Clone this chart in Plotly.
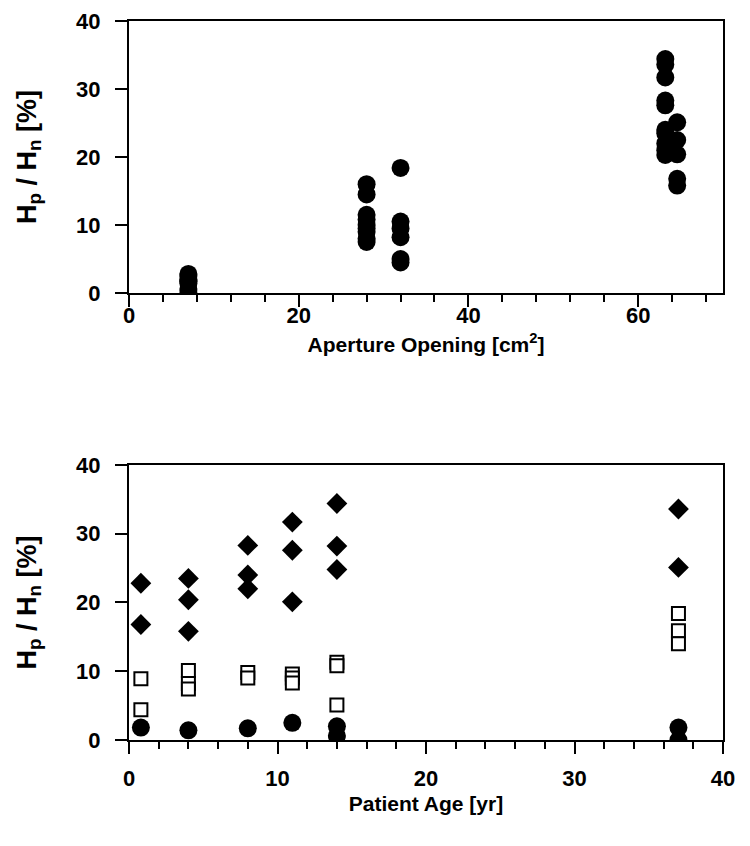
import plotly.graph_objects as go
from plotly.subplots import make_subplots

# ---- Top panel: aperture opening vs Hp/Hn ----
ap_x_7 = [7, 7, 7, 7, 7, 7, 7, 7]
ap_y_7 = [0.0, 0.6, 1.4, 1.7, 1.8, 2.0, 2.5, 2.8]
ap_x_28 = [28, 28, 28, 28, 28, 28, 28, 28, 28]
ap_y_28 = [16.0, 14.5, 11.5, 10.8, 10.0, 9.5, 9.0, 8.0, 7.5]
ap_x_32 = [32, 32, 32, 32, 32, 32]
ap_y_32 = [18.4, 10.5, 9.5, 8.2, 5.0, 4.5]
ap_x_63 = [63.2] * 10
ap_y_63 = [34.4, 33.6, 31.7, 28.3, 27.6, 24.0, 23.5, 22.0, 21.0, 20.3]
ap_x_645 = [64.6] * 5
ap_y_645 = [25.1, 22.5, 20.4, 16.8, 15.8]

# ---- Bottom panel: patient age ----
age_diamond_x = [0.8, 0.8, 4, 4, 4, 8, 8, 8, 11, 11, 11, 14, 14, 14, 37, 37]
age_diamond_y = [22.8, 16.8, 23.5, 20.4, 15.8, 28.3, 24.0, 22.0, 31.7, 27.6, 20.1, 34.4, 28.2, 24.8, 33.6, 25.1]
age_square_x = [0.8, 0.8, 4, 4, 4, 8, 8, 11, 11, 11, 14, 14, 14, 37, 37, 37]
age_square_y = [8.9, 4.4, 10.1, 8.2, 7.4, 9.8, 9.0, 9.6, 9.0, 8.3, 11.3, 10.8, 5.1, 18.4, 15.9, 14.0]
age_circle_x = [0.8, 4, 8, 11, 14, 14, 37, 37]
age_circle_y = [1.8, 1.4, 1.7, 2.5, 2.0, 0.6, 1.8, 0.0]

top_xticks = [0, 20, 40, 60]
bot_xticks = [0, 10, 20, 30, 40]
yticks = [0, 10, 20, 30, 40]

FONT = "Liberation Sans, Arial, sans-serif"

fig = make_subplots(rows=2, cols=1)

top_x = ap_x_7 + ap_x_28 + ap_x_32 + ap_x_63 + ap_x_645
top_y = ap_y_7 + ap_y_28 + ap_y_32 + ap_y_63 + ap_y_645
fig.add_trace(go.Scatter(x=top_x, y=top_y, mode="markers",
                         marker=dict(symbol="circle", size=18, color="black"),
                         showlegend=False), row=1, col=1)

fig.add_trace(go.Scatter(x=age_diamond_x, y=age_diamond_y, mode="markers",
                         marker=dict(symbol="diamond", size=16, color="black"),
                         showlegend=False), row=2, col=1)
fig.add_trace(go.Scatter(x=age_square_x, y=age_square_y, mode="markers",
                         marker=dict(symbol="square", size=13, color="white",
                                     line=dict(color="black", width=2)),
                         showlegend=False), row=2, col=1)
fig.add_trace(go.Scatter(x=age_circle_x, y=age_circle_y, mode="markers",
                         marker=dict(symbol="circle", size=18, color="black"),
                         showlegend=False), row=2, col=1)

ax_common = dict(showgrid=False, zeroline=False, showline=True, linecolor="black",
                 linewidth=2, mirror=True, ticks="outside", ticklen=12, tickwidth=2,
                 tickcolor="black",
                 tickfont=dict(family=FONT, size=22, color="black", weight="bold"))

xtitle_font = dict(family=FONT, size=21, color="black", weight="bold")
ytitle_font = dict(family=FONT, size=27, color="black", weight="bold")

fig.update_xaxes(**ax_common, range=[0, 70], tickvals=top_xticks,
                 ticktext=[str(v) for v in top_xticks], ticklabelstandoff=-10,
                 minor=dict(ticks="outside", dtick=4, tick0=0, ticklen=7, tickwidth=2,
                            tickcolor="black"),
                 title=dict(text="Aperture Opening [cm<sup>2</sup>]", font=xtitle_font,
                            standoff=10),
                 domain=[0, 1], row=1, col=1)
fig.update_xaxes(**ax_common, range=[0, 40], tickvals=bot_xticks,
                 ticktext=[str(v) for v in bot_xticks], ticklabelstandoff=6,
                 minor=dict(ticks="outside", dtick=2, tick0=0, ticklen=7, tickwidth=2,
                            tickcolor="black"),
                 title=dict(text="Patient Age [yr]", font=xtitle_font, standoff=6),
                 domain=[0, 1], row=2, col=1)

ytitle = "H<sub>p</sub> / H<sub>n</sub> [%]"
fig.update_yaxes(**ax_common, range=[0, 40], tickvals=yticks,
                 ticktext=[str(v) for v in yticks], ticklabelstandoff=10,
                 title=dict(text=ytitle, font=ytitle_font, standoff=32),
                 domain=[0.6217, 1], row=1, col=1)
fig.update_yaxes(**ax_common, range=[0, 40], tickvals=yticks,
                 ticktext=[str(v) for v in yticks], ticklabelstandoff=10,
                 title=dict(text=ytitle, font=ytitle_font, standoff=32),
                 domain=[0, 0.3825], row=2, col=1)

fig.update_layout(width=750, height=846,
                  margin=dict(l=121, r=35, t=13, b=114, autoexpand=False),
                  plot_bgcolor="white", paper_bgcolor="white",
                  font=dict(family=FONT, color="black"))

fig.write_html("out.html")
